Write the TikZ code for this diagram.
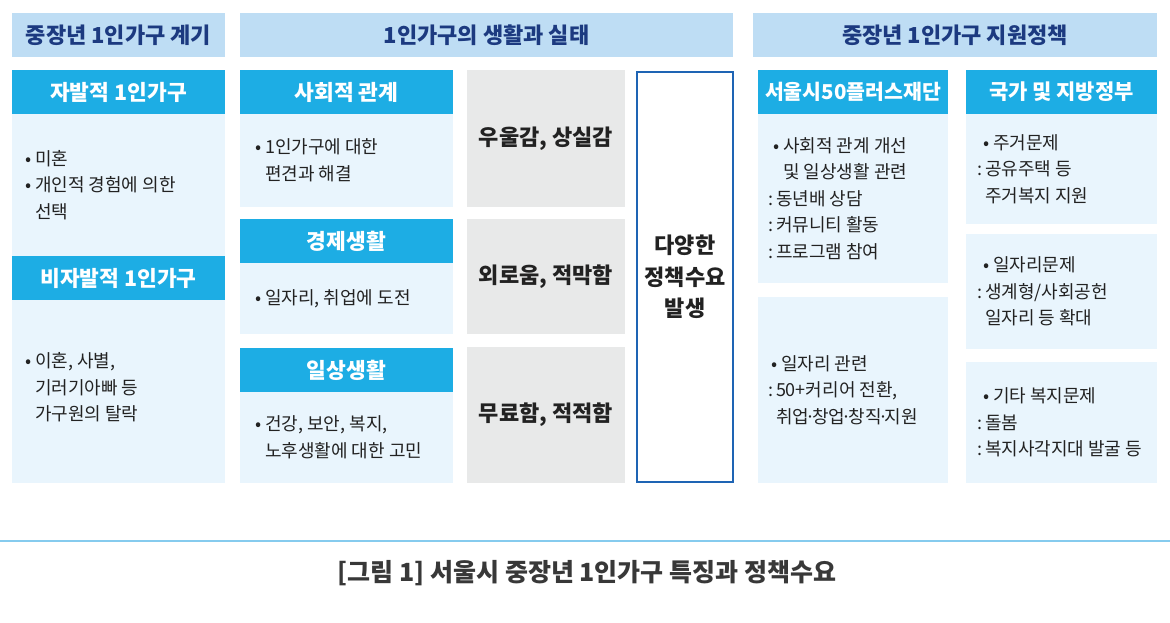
\documentclass[tikz,border=0pt]{standalone}
\usepackage{fontspec}
\setmainfont{Noto Sans CJK KR}
\usetikzlibrary{positioning}
\definecolor{headblue}{RGB}{190,221,244}
\definecolor{headnavy}{RGB}{28,58,128}
\definecolor{barblue}{RGB}{29,173,228}
\definecolor{bodyblue}{RGB}{233,245,253}
\definecolor{moodgray}{RGB}{232,233,233}
\definecolor{needblue}{RGB}{30,100,180}
\definecolor{textdark}{RGB}{34,34,34}
\definecolor{rulecol}{RGB}{134,203,238}
\newcommand{\bulind}{\phantom{•\ }}
\newcommand{\colsep}{:\hspace{3pt}}
\newcommand{\colind}{\phantom{:}\hspace{3pt}}
\newcommand{\mdot}{\hspace{-3.5pt}·\hspace{-3.5pt}}

\begin{document}
\begin{tikzpicture}[x=1pt, y=-1pt,
    head/.style={rectangle, fill=headblue, text=headnavy, minimum height=44pt, inner sep=0pt, font=\fontsize{22}{26}\selectfont\bfseries},
    bar/.style={rectangle, fill=barblue, text=white, minimum height=44pt, inner sep=0pt, font=\fontsize{21.5}{26}\selectfont\bfseries},
    body/.style={rectangle, fill=bodyblue, inner sep=0pt},
    bodytext/.style={text=textdark, inner sep=0pt, align=left, font=\fontsize{18}{26.5}\selectfont},
    mood/.style={rectangle, fill=moodgray, text=textdark, minimum width=158pt, inner sep=0pt, font=\fontsize{22}{26}\selectfont\bfseries},
    need/.style={rectangle, draw=needblue, line width=2pt, fill=white, text=textdark, align=center, font=\fontsize{22}{31.5}\selectfont\bfseries},
    caption/.style={text=textdark!90, font=\fontsize{25}{30}\selectfont\bfseries}
]
    \useasboundingbox (0,0) rectangle (1170,622);

    % Headers
    \node[head, minimum width=213pt] (hdCause) at (118.5,35) {중장년 1인가구 계기};
    \node[head, minimum width=493pt] (hdLife) at (486.5,35) {1인가구의 생활과 실태};
    \node[head, minimum width=404pt] (hdPolicy) at (955,35) {중장년 1인가구 지원정책};

    % Left column — causes
    \node[bar, minimum width=213pt] (volBar) at (118.5,92) {자발적 1인가구};
    \node[body, minimum width=213pt, minimum height=142pt] (volBody) at (118.5,185) {};
    \node[bodytext, right=13pt of volBody.west] (volText) {• 미혼\\• 개인적 경험에 의한\\\bulind 선택};
    \node[bar, minimum width=213pt] (invBar) at (118.5,278) {비자발적 1인가구};
    \node[body, minimum width=213pt, minimum height=183pt] (invBody) at (118.5,391.5) {};
    \node[bodytext, right=13pt of invBody.west, yshift=4pt] (invText) {• 이혼, 사별,\\\bulind 기러기아빠 등\\\bulind 가구원의 탈락};

    % Middle column — life
    \node[bar, minimum width=213pt] (socBar) at (346.5,92) {사회적 관계};
    \node[body, minimum width=213pt, minimum height=93pt] (socBody) at (346.5,160.5) {};
    \node[bodytext, right=15pt of socBody.west] (socText) {• 1인가구에 대한\\\bulind 편견과 해결};
    \node[bar, minimum width=213pt] (ecoBar) at (346.5,241) {경제생활};
    \node[body, minimum width=213pt, minimum height=71pt] (ecoBody) at (346.5,298.5) {};
    \node[bodytext, right=15pt of ecoBody.west] (ecoText) {• 일자리, 취업에 도전};
    \node[bar, minimum width=213pt] (dayBar) at (346.5,370) {일상생활};
    \node[body, minimum width=213pt, minimum height=91pt] (dayBody) at (346.5,437.5) {};
    \node[bodytext, right=15pt of dayBody.west] (dayText) {• 건강, 보안, 복지,\\\bulind 노후생활에 대한 고민};

    \node[mood, minimum height=137pt] (moodSoc) at (546,138.5) {우울감, 상실감};
    \node[mood, minimum height=115pt] (moodEco) at (546,276.5) {외로움, 적막함};
    \node[mood, minimum height=136pt] (moodDay) at (546,415) {무료함, 적적함};

    \node[need, minimum width=96pt, minimum height=410pt] (need) at (685,277) {다양한\\정책수요\\발생};

    % Right columns — policy
    \node[bar, minimum width=190pt, font=\fontsize{20.5}{26}\selectfont\bfseries] (fdnBar) at (853,92) {서울시50플러스재단};
    \node[body, minimum width=190pt, minimum height=169pt] (fdnSocBody) at (853,198.5) {};
    \node[bodytext, right=10pt of fdnSocBody.west] (fdnSocText) {\hspace*{5pt}• 사회적 관계 개선\\\hspace*{5pt}\bulind 및 일상생활 관련\\\colsep 동년배 상담\\\colsep 커뮤니티 활동\\\colsep 프로그램 참여};
    \node[body, minimum width=190pt, minimum height=186pt] (fdnJobBody) at (853,390) {};
    \node[bodytext, right=10pt of fdnJobBody.west] (fdnJobText) {\hspace*{3pt}• 일자리 관련\\\colsep 50+커리어 전환,\\\colind 취업\mdot 창업\mdot 창직\mdot 지원};

    \node[bar, minimum width=191pt, font=\fontsize{21}{26}\selectfont\bfseries] (govBar) at (1061.5,92) {국가 및 지방정부};
    \node[body, minimum width=191pt, minimum height=110pt] (govHouseBody) at (1061.5,169) {};
    \node[bodytext, right=11pt of govHouseBody.west] (govHouseText) {\hspace*{6pt}• 주거문제\\\colsep 공유주택 등\\\colind 주거복지 지원};
    \node[body, minimum width=191pt, minimum height=115pt] (govJobBody) at (1061.5,291.5) {};
    \node[bodytext, right=11pt of govJobBody.west] (govJobText) {\hspace*{6pt}• 일자리문제\\\colsep 생계형/사회공헌\\\colind 일자리 등 확대};
    \node[body, minimum width=191pt, minimum height=121pt] (govCareBody) at (1061.5,422.5) {};
    \node[bodytext, right=11pt of govCareBody.west] (govCareText) {\hspace*{6pt}• 기타 복지문제\\\colsep 돌봄\\\colsep 복지사각지대 발굴 등};

    % Caption
    \coordinate (ruleL) at (0,541);
    \coordinate (ruleR) at (1170,541);
    \draw[rulecol, line width=2pt] (ruleL) -- (ruleR);
    \node[caption] (cap) at (587,573) {[그림 1] 서울시 중장년 1인가구 특징과 정책수요};
\end{tikzpicture}
\end{document}
